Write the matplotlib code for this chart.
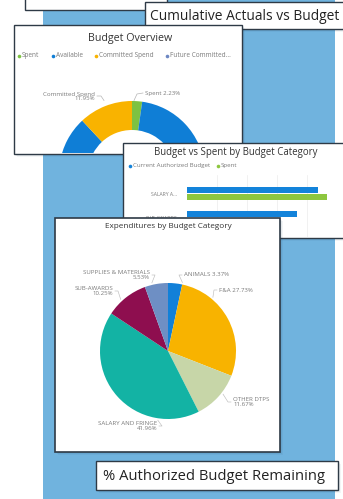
import matplotlib
matplotlib.use('Agg')
import matplotlib.pyplot as plt
from matplotlib.patches import Rectangle
import numpy as np

plt.rcParams['font.family'] = ['Open Sans', 'DejaVu Sans']

# ---------------- data ----------------
box_titles = ['Cumulative Actuals vs Budget', '% Authorized Budget Remaining']
donut_title = 'Budget Overview'
donut_labels = ['Spent', 'Available', 'Committed Spend', 'Future Committed...']
donut_values = [2.23, 85.82, 11.95, 0.0]
bar_title = 'Budget vs Spent by Budget Category'
bar_series = ['Current Authorized Budget', 'Spent']
bar_categories = ['SALARY A...', 'SUB-AWARDS']
bar_budget = [2.18, 1.83]
bar_spent = [2.33, 0.47]
pie_title = 'Expenditures by Budget Category'
pie_labels = ['ANIMALS', 'F&A', 'OTHER DTPS', 'SALARY AND FRINGE', 'SUB-AWARDS',
              'SUPPLIES & MATERIALS']
pie_values = [3.37, 27.73, 11.67, 41.96, 10.25, 5.53]

# ---------------- style ----------------
W, H = 343, 499
BG_BLUE = '#70B3DE'
BORDER = '#2E3A46'
TXT = '#333333'
LBL = '#7a7a7a'
donut_colors = ['#7DC242', '#0F7ED6', '#F9B300', '#6D87C2']
bar_colors = ['#1383DA', '#8DC63F']
pie_colors = ['#1280D8', '#F8B300', '#C7D6A8', '#13B3A4', '#8E0E4F', '#6E8FC4']
SMALL = 4.4

fig = plt.figure(figsize=(W / 100, H / 100), dpi=100)
fig.patch.set_facecolor('white')


def layer(z):
    ax = fig.add_axes([0, 0, 1, 1], zorder=z)
    ax.set_xlim(0, W)
    ax.set_ylim(H, 0)
    ax.axis('off')
    return ax


def data_axes(x0, y0, x1, y1, z):
    return fig.add_axes([x0 / W, 1 - y1 / H, (x1 - x0) / W, (y1 - y0) / H], zorder=z)


def panel(ax, x0, y0, x1, y1, lw=1.0, shadow=True):
    if shadow:
        for d, a in [(3, 0.05), (2, 0.07), (1, 0.09)]:
            ax.add_patch(Rectangle((x0 + d, y0 + d), x1 - x0, y1 - y0, fc='#1d3d5c',
                                   alpha=a, ec='none'))
    ax.add_patch(Rectangle((x0, y0), x1 - x0, y1 - y0, fc='white', ec=BORDER, lw=lw))


def legend_row(ax, x, y, labels, colors, fs, gaps):
    for lab, col, gx in zip(labels, colors, gaps):
        ax.plot([x + gx], [y], 'o', ms=2.6, color=col, mec='none')
        ax.text(x + gx + 3, y, lab, fontsize=fs, color=LBL, va='center', ha='left')


# ---------- layer 0: background, blue canvas, top boxes, Budget Overview panel ----------
bg = layer(0)
bg.add_patch(Rectangle((43, -5), 292, H + 10, fc=BG_BLUE, ec='none'))
panel(bg, 25, -10, 167, 10, shadow=False)
panel(bg, 145, 2, 346, 29)
bg.text(150, 16, box_titles[0], fontsize=9.9, color='#222222', va='center', ha='left')
panel(bg, 14, 25, 242, 154)
bg.text(130, 38.5, donut_title, fontsize=7.7, color=TXT, ha='center', va='center')
legend_row(bg, 19, 55.5, donut_labels, donut_colors, 4.7, [0, 34, 77, 148])

# ---------- layer 1: donut ----------
d_x0, d_y0, d_x1, d_y1 = 15, 60, 241, 153
axd = data_axes(d_x0, d_y0, d_x1, d_y1, 1)
dcx, dcy, dR, dw = 132, H - 174, 73, 29
dwedges, _ = axd.pie(donut_values, colors=donut_colors, startangle=90, counterclock=False,
                     radius=dR, center=(dcx, dcy),
                     wedgeprops=dict(width=dw, edgecolor='none', linewidth=0))
for w in dwedges:
    w.set_clip_on(True)
    w.set_clip_path(axd.patch)
axd.set_xlim(d_x0, d_x1)
axd.set_ylim(H - d_y1, H - d_y0)
axd.set_aspect('auto')
axd.axis('off')
axd.text(95, H - 96.5, f"{donut_labels[2]}\n{donut_values[2]:.2f}%", fontsize=SMALL,
         color=LBL, ha='right', va='center', multialignment='right', linespacing=0.9)
axd.plot([97, 101, 104], [H - 96, H - 96, H - 100.5], color='#b5b5b5', lw=0.5)
axd.text(145, H - 93, f"{donut_labels[0]} {donut_values[0]:.2f}%", fontsize=SMALL,
         color=LBL, ha='left', va='center')
axd.plot([134, 137, 143], [H - 100.5, H - 94, H - 93], color='#b5b5b5', lw=0.5)

# ---------- layer 2: Budget vs Spent panel ----------
l2 = layer(2)
panel(l2, 123, 143, 346, 238)
l2.text(236, 152.5, bar_title, fontsize=6.9, color=TXT, ha='center', va='center')
legend_row(l2, 130, 166, bar_series, bar_colors, SMALL, [0, 88])

axb = data_axes(187, 175, 334, 237, 3)
yy = np.arange(len(bar_categories))
axb.barh(yy - 0.14, bar_budget, height=0.26, color=bar_colors[0])
axb.barh(yy + 0.14, bar_spent, height=0.26, color=bar_colors[1])
axb.set_xlim(0, 2.45)
axb.set_ylim(1.8, -0.77)
axb.set_xticks(np.arange(0.5, 2.45, 0.5))
axb.set_yticks(yy, bar_categories)
axb.tick_params(length=0, labelbottom=False, labelsize=3.6, labelcolor=LBL, pad=7)
axb.grid(axis='x', color='#ebebeb', lw=0.5)
axb.set_axisbelow(True)
for s in axb.spines.values():
    s.set_visible(False)

# ---------- layer 4: Expenditures panel ----------
l4 = layer(4)
panel(l4, 55, 218, 280, 452, lw=1.2)
l4.text(168, 226, pie_title, fontsize=5.9, color=TXT, ha='center', va='center')

axp = data_axes(56, 232, 279, 451, 5)
pcx, pcy, pR = 168, H - 351, 68
axp.pie(pie_values, colors=pie_colors, startangle=90, counterclock=False,
        radius=pR, center=(pcx, pcy), wedgeprops=dict(edgecolor='none', linewidth=0))
axp.set_xlim(56, 279)
axp.set_ylim(H - 451, H - 232)
axp.set_aspect('auto')
axp.axis('off')

# label anchors (layout, pixel offsets from pie centre) and side
label_layout = [(16, -76, 'left'), (51, -61, 'left'), (65, 51, 'left'),
                (-11, 75, 'right'), (-55, -60, 'right'), (-18, -76, 'right')]
for lab, val, (ox, oy, side) in zip(pie_labels, pie_values, label_layout):
    tx, ty = pcx + ox, pcy - oy
    if lab in ('ANIMALS', 'F&A'):
        s = f"{lab} {val:.2f}%"
    else:
        s = f"{lab}\n{val:.2f}%"
    axp.text(tx, ty, s, fontsize=SMALL, color=LBL, ha=side, va='center',
             multialignment=side, linespacing=0.9)
    ang = np.arctan2(ty - pcy, tx - pcx)
    ex, ey = pcx + (pR + 2) * np.cos(ang), pcy + (pR + 2) * np.sin(ang)
    sx = tx - 2 if side == 'left' else tx + 2
    axp.plot([sx, sx - 3 if side == 'left' else sx + 3, ex], [ty, ty, ey],
             color='#bdbdbd', lw=0.45)

# ---------- layer 6: % Authorized box ----------
l6 = layer(6)
panel(l6, 96, 461, 338, 490)
l6.text(103, 476, box_titles[1], fontsize=10.6, color='#222222', va='center', ha='left')

fig.savefig('out.png', dpi=100, facecolor='white')
